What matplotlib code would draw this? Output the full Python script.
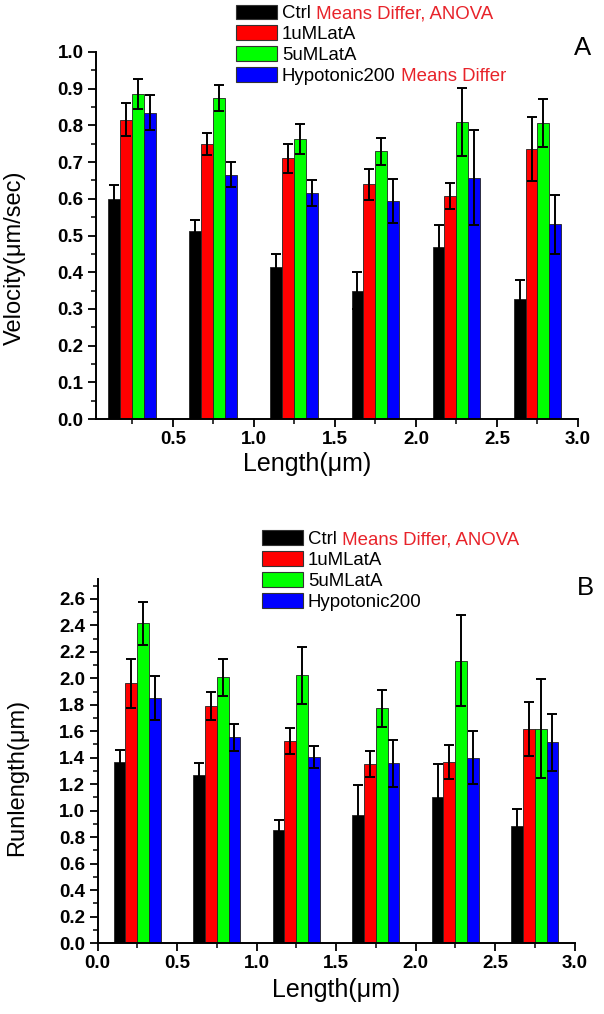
import matplotlib
matplotlib.use("Agg")
import matplotlib.pyplot as plt
import numpy as np
from matplotlib.ticker import MultipleLocator

plt.rcParams['font.family'] = ['Liberation Sans', 'DejaVu Sans']

groups = [0.25, 0.75, 1.25, 1.75, 2.25, 2.75]
series = ["Ctrl", "1uMLatA", "5uMLatA", "Hypotonic200"]
colors = ["#000000", "#ff0000", "#00ff00", "#0000ff"]

# panel A: velocity (um/sec), value and error
vel_ctrl = [0.600, 0.512, 0.413, 0.350, 0.470, 0.328]
vel_ctrl_err = [0.038, 0.030, 0.037, 0.050, 0.058, 0.050]
vel_1u = [0.815, 0.750, 0.710, 0.640, 0.608, 0.735]
vel_1u_err = [0.045, 0.030, 0.040, 0.042, 0.036, 0.087]
vel_5u = [0.885, 0.875, 0.763, 0.730, 0.810, 0.807]
vel_5u_err = [0.041, 0.036, 0.042, 0.037, 0.093, 0.065]
vel_hyp = [0.835, 0.665, 0.615, 0.595, 0.658, 0.530]
vel_hyp_err = [0.047, 0.034, 0.035, 0.060, 0.130, 0.080]

# panel B: run length (um)
run_ctrl = [1.369, 1.270, 0.856, 0.970, 1.106, 0.881]
run_ctrl_err = [0.090, 0.087, 0.075, 0.220, 0.245, 0.132]
run_1u = [1.964, 1.790, 1.525, 1.350, 1.366, 1.614]
run_1u_err = [0.185, 0.105, 0.100, 0.098, 0.128, 0.205]
run_5u = [2.416, 2.006, 2.024, 1.772, 2.132, 1.619]
run_5u_err = [0.162, 0.142, 0.215, 0.142, 0.345, 0.375]
run_hyp = [1.853, 1.555, 1.404, 1.359, 1.399, 1.518]
run_hyp_err = [0.166, 0.102, 0.085, 0.178, 0.200, 0.215]

vel = [vel_ctrl, vel_1u, vel_5u, vel_hyp]
vel_err = [vel_ctrl_err, vel_1u_err, vel_5u_err, vel_hyp_err]
run = [run_ctrl, run_1u, run_5u, run_hyp]
run_err = [run_ctrl_err, run_1u_err, run_5u_err, run_hyp_err]

width = 0.074
offsets = [-1.5 * width, -0.5 * width, 0.5 * width, 1.5 * width]

W, H = 604, 1014
fig = plt.figure(figsize=(6.04, 10.14), dpi=100)
# axes boxes in pixels: left, top, right, bottom
axA = fig.add_axes([96 / W, 1 - 419 / H, (578 - 96) / W, (419 - 52) / H])
axB = fig.add_axes([97.5 / W, 1 - 943 / H, (574.5 - 97.5) / W, (943 - 579) / H])


def draw(ax, vals, errs):
    x = np.array(groups)
    for i in range(4):
        ax.bar(x + offsets[i], vals[i], width, color=colors[i],
               edgecolor="#222222", linewidth=0.6, label=series[i],
               yerr=errs[i], capsize=3.3,
               error_kw=dict(ecolor="black", elinewidth=1.4, capthick=1.4))
    for s in ["top", "right"]:
        ax.spines[s].set_visible(False)
    for s in ["left", "bottom"]:
        ax.spines[s].set_linewidth(1.4)
    ax.tick_params(which="major", direction="out", length=5.5, width=1.3,
                   labelsize=13.5, pad=3.5)
    ax.tick_params(which="minor", direction="out", length=3.3, width=1.1)
    ax.xaxis.set_minor_locator(MultipleLocator(0.25))


draw(axA, vel, vel_err)
axA.set_xlim(0.025, 3.0)
axA.set_ylim(0, 1.0)
axA.set_xticks([0.5, 1.0, 1.5, 2.0, 2.5, 3.0])
axA.set_xticklabels(["0.5", "1.0", "1.5", "2.0", "2.5", "3.0"], fontweight="bold")
axA.set_yticks(np.arange(0, 1.01, 0.1))
axA.set_yticklabels(["%.1f" % v for v in np.arange(0, 1.01, 0.1)], fontweight="bold")
axA.yaxis.set_minor_locator(MultipleLocator(0.05))
axA.set_xlabel("Length(μm)", fontsize=18)
axA.set_ylabel("Velocity(μm/sec)", fontsize=17, va="center")
axA.xaxis.set_label_coords((307 - 96) / 482, (419 - 452) / 367)
axA.yaxis.set_label_coords((15 - 96) / 482, (419 - 258) / 367)

draw(axB, run, run_err)
axB.set_xlim(0.0, 3.0)
axB.set_ylim(0, 2.75)
axB.set_xticks([0.0, 0.5, 1.0, 1.5, 2.0, 2.5, 3.0])
axB.set_xticklabels(["0.0", "0.5", "1.0", "1.5", "2.0", "2.5", "3.0"], fontweight="bold")
yt = np.arange(0, 2.61, 0.2)
axB.set_yticks(yt)
axB.set_yticklabels(["%.1f" % v for v in yt], fontweight="bold")
axB.yaxis.set_minor_locator(MultipleLocator(0.1))
axB.set_xlabel("Length(μm)", fontsize=18)
axB.set_ylabel("Runlength(μm)", fontsize=17, va="center")
axB.xaxis.set_label_coords(0.5, (943 - 978) / 364)
axB.yaxis.set_label_coords((17 - 97.5) / 477, (943 - 777) / 364)


def legend(ax, anchor, notes):
    leg = ax.legend(loc="upper left", bbox_to_anchor=anchor,
                    bbox_transform=fig.transFigure, frameon=False,
                    fontsize=13.4, handlelength=2.2, handleheight=0.86,
                    labelspacing=0.15, handletextpad=0.27, borderpad=0,
                    borderaxespad=0)
    for patch in leg.get_patches():
        patch.set_edgecolor("#333333")
        patch.set_linewidth(0.8)
    texts = leg.get_texts()
    for idx, note in notes.items():
        ax.annotate(" " + note, xy=(1, 0), xycoords=texts[idx],
                    va="bottom", ha="left", fontsize=13.4, color="#e8232a",
                    zorder=10, annotation_clip=False)
    return leg


legend(axA, (236 / W, 1 - 4.5 / H),
       {0: "Means Differ, ANOVA", 3: "Means Differ"})
legend(axB, (262 / W, 1 - 530.5 / H),
       {0: "Means Differ, ANOVA"})

fig.text(583 / W, 1 - 48 / H, "A", fontsize=18.5, ha="center", va="center")
fig.text(585 / W, 1 - 588 / H, "B", fontsize=18.5, ha="center", va="center")

fig.savefig("out.png", dpi=100)
